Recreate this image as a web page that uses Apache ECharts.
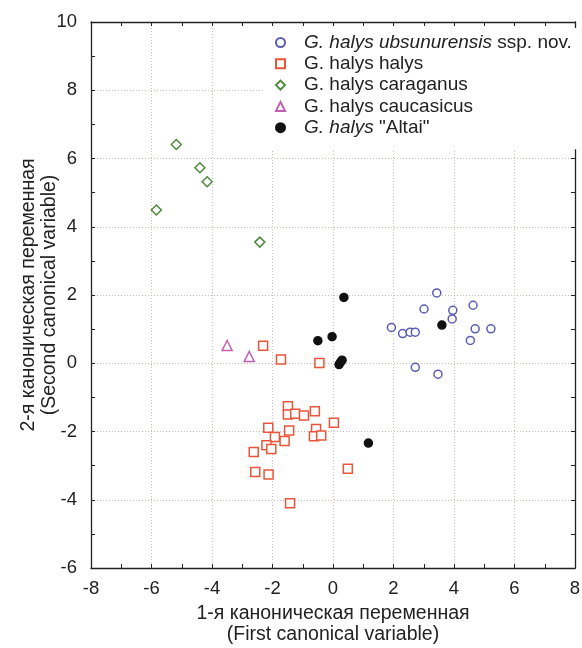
<!DOCTYPE html>
<html>
<head>
<meta charset="utf-8">
<script src="https://cdn.jsdelivr.net/npm/echarts@6/dist/echarts.min.js"></script>
<style>
  html, body { margin: 0; padding: 0; background: #fff; }
  #chart { width: 582px; height: 648px; }
</style>
</head>
<body>
<div id="chart"></div>
<script>
  // points, [x, y]
  var ubsunurensis = [
    [3.43, 2.06], [3.01, 1.59], [3.96, 1.55], [4.63, 1.70], [3.94, 1.30],
    [1.93, 1.05], [2.30, 0.87], [2.55, 0.91], [2.72, 0.91], [4.70, 1.01],
    [5.22, 1.01], [4.54, 0.67], [2.72, -0.12], [3.47, -0.32]
  ]
  var halys = [
    [-2.31, 0.51], [-1.72, 0.11], [-0.45, 0.01], [-1.49, -1.26], [-1.49, -1.50],
    [-1.25, -1.48], [-0.96, -1.53], [-0.60, -1.41], [0.03, -1.74], [-2.14, -1.89],
    [-1.45, -1.97], [-0.56, -1.93], [-0.63, -2.14], [-0.39, -2.12], [-1.92, -2.16],
    [-1.60, -2.28], [-2.20, -2.40], [-2.04, -2.51], [-2.62, -2.60], [-2.57, -3.19],
    [-2.13, -3.26], [0.49, -3.09], [-1.42, -4.10]
  ]
  var caraganus = [
    [-5.18, 6.41], [-4.40, 5.73], [-4.16, 5.32], [-5.84, 4.49], [-2.42, 3.55]
  ]
  var caucasicus = [
    [-3.50, 0.52], [-2.77, 0.20]
  ]
  var altai = [
    [0.36, 1.93], [-0.03, 0.78], [-0.50, 0.66], [0.20, -0.04], [0.25, 0.03],
    [0.30, 0.09], [1.17, -2.34], [3.60, 1.12]
  ]

  var seriesNames = [
    'G. halys ubsunurensis ssp. nov.',
    'G. halys halys',
    'G. halys caraganus',
    'G. halys caucasicus',
    'G. halys "Altai"'
  ]
  var legendLabels = {
    'G. halys ubsunurensis ssp. nov.': '{i|G. halys ubsunurensis} ssp. nov.',
    'G. halys "Altai"': '{i|G. halys} "Altai"'
  }

  var xTitle = '1-я каноническая переменная\n(First canonical variable)'
  var yTitle = '2-я каноническая переменная\n(Second canonical variable)'

  var fontFamily = '"Liberation Sans", Arial, sans-serif'
  var frameColor = '#222'

  function frameAxis(pos, isMain) {
    return {
      type: 'value',
      position: pos,
      min: pos === 'bottom' || pos === 'top' ? -8 : -6,
      max: pos === 'bottom' || pos === 'top' ? 8 : 10,
      interval: 2,
      axisLine: { show: true, onZero: false, lineStyle: { color: frameColor, width: 1.3 } },
      axisTick: { show: true, inside: true, length: 4, lineStyle: { color: frameColor } },
      minorTick: { show: true, splitNumber: 2, length: 4, lineStyle: { color: frameColor } },
      axisLabel: {
        show: isMain,
        color: '#222',
        fontSize: 18.5,
        fontFamily: fontFamily,
        margin: pos === 'left' ? 14 : 11
      },
      splitLine: {
        show: isMain,
        lineStyle: { color: '#cdbab4', type: [1, 2], width: 1 }
      }
    }
  }

  var xMain = frameAxis('bottom', true)
  xMain.name = xTitle
  xMain.nameLocation = 'middle'
  xMain.nameGap = 35
  xMain.nameTextStyle = { color: '#222', fontSize: 19.5, fontFamily: fontFamily, lineHeight: 21 }

  var yMain = frameAxis('left', true)
  yMain.name = yTitle
  yMain.nameLocation = 'middle'
  yMain.nameGap = 31
  yMain.nameMoveOverlap = false
  yMain.nameTextStyle = { color: '#222', fontSize: 19.5, fontFamily: fontFamily, lineHeight: 21 }

  var xTop = frameAxis('top', false)
  var yRight = frameAxis('right', false)

  function scatter(name, data, symbol, size, fill, stroke) {
    return {
      name: name,
      type: 'scatter',
      xAxisIndex: 0,
      yAxisIndex: 0,
      data: data,
      symbol: symbol,
      symbolSize: size,
      itemStyle: { color: fill, borderColor: stroke, borderWidth: 1.5, opacity: 1 },
      emphasis: { disabled: true }
    }
  }

  var chart = echarts.init(document.getElementById('chart'))
  chart.setOption({
    animation: false,
    grid: { left: 91, right: 7, top: 22, bottom: 80, containLabel: false, outerBoundsMode: 'none' },
    xAxis: [xMain, xTop],
    yAxis: [yMain, yRight],
    legend: {
      orient: 'vertical',
      left: 265,
      top: 28,
      padding: [5, 8, 12, 10],
      backgroundColor: '#fff',
      itemWidth: 9,
      itemHeight: 9,
      itemGap: 2.3,
      data: seriesNames,
      formatter: function (name) {
        return '{sp|}' + (legendLabels[name] || name)
      },
      textStyle: {
        color: '#222',
        fontSize: 19,
        fontFamily: fontFamily,
        lineHeight: 19,
        rich: {
          sp: { width: 14 },
          i: { fontStyle: 'italic', fontSize: 19, fontFamily: fontFamily, color: '#222' }
        }
      }
    },
    series: [
      scatter(seriesNames[0], ubsunurensis, 'circle', 8, '#fff', '#5a5db3'),
      scatter(seriesNames[1], halys, 'rect', 9, '#fff', '#e8553a'),
      scatter(seriesNames[2], caraganus, 'diamond', 10, '#fff', '#4f8a3c'),
      scatter(seriesNames[3], caucasicus, 'triangle', 10, '#fff', '#c25fb3'),
      scatter(seriesNames[4], altai, 'circle', 8, '#111', '#111')
    ]
  })
</script>
</body>
</html>
